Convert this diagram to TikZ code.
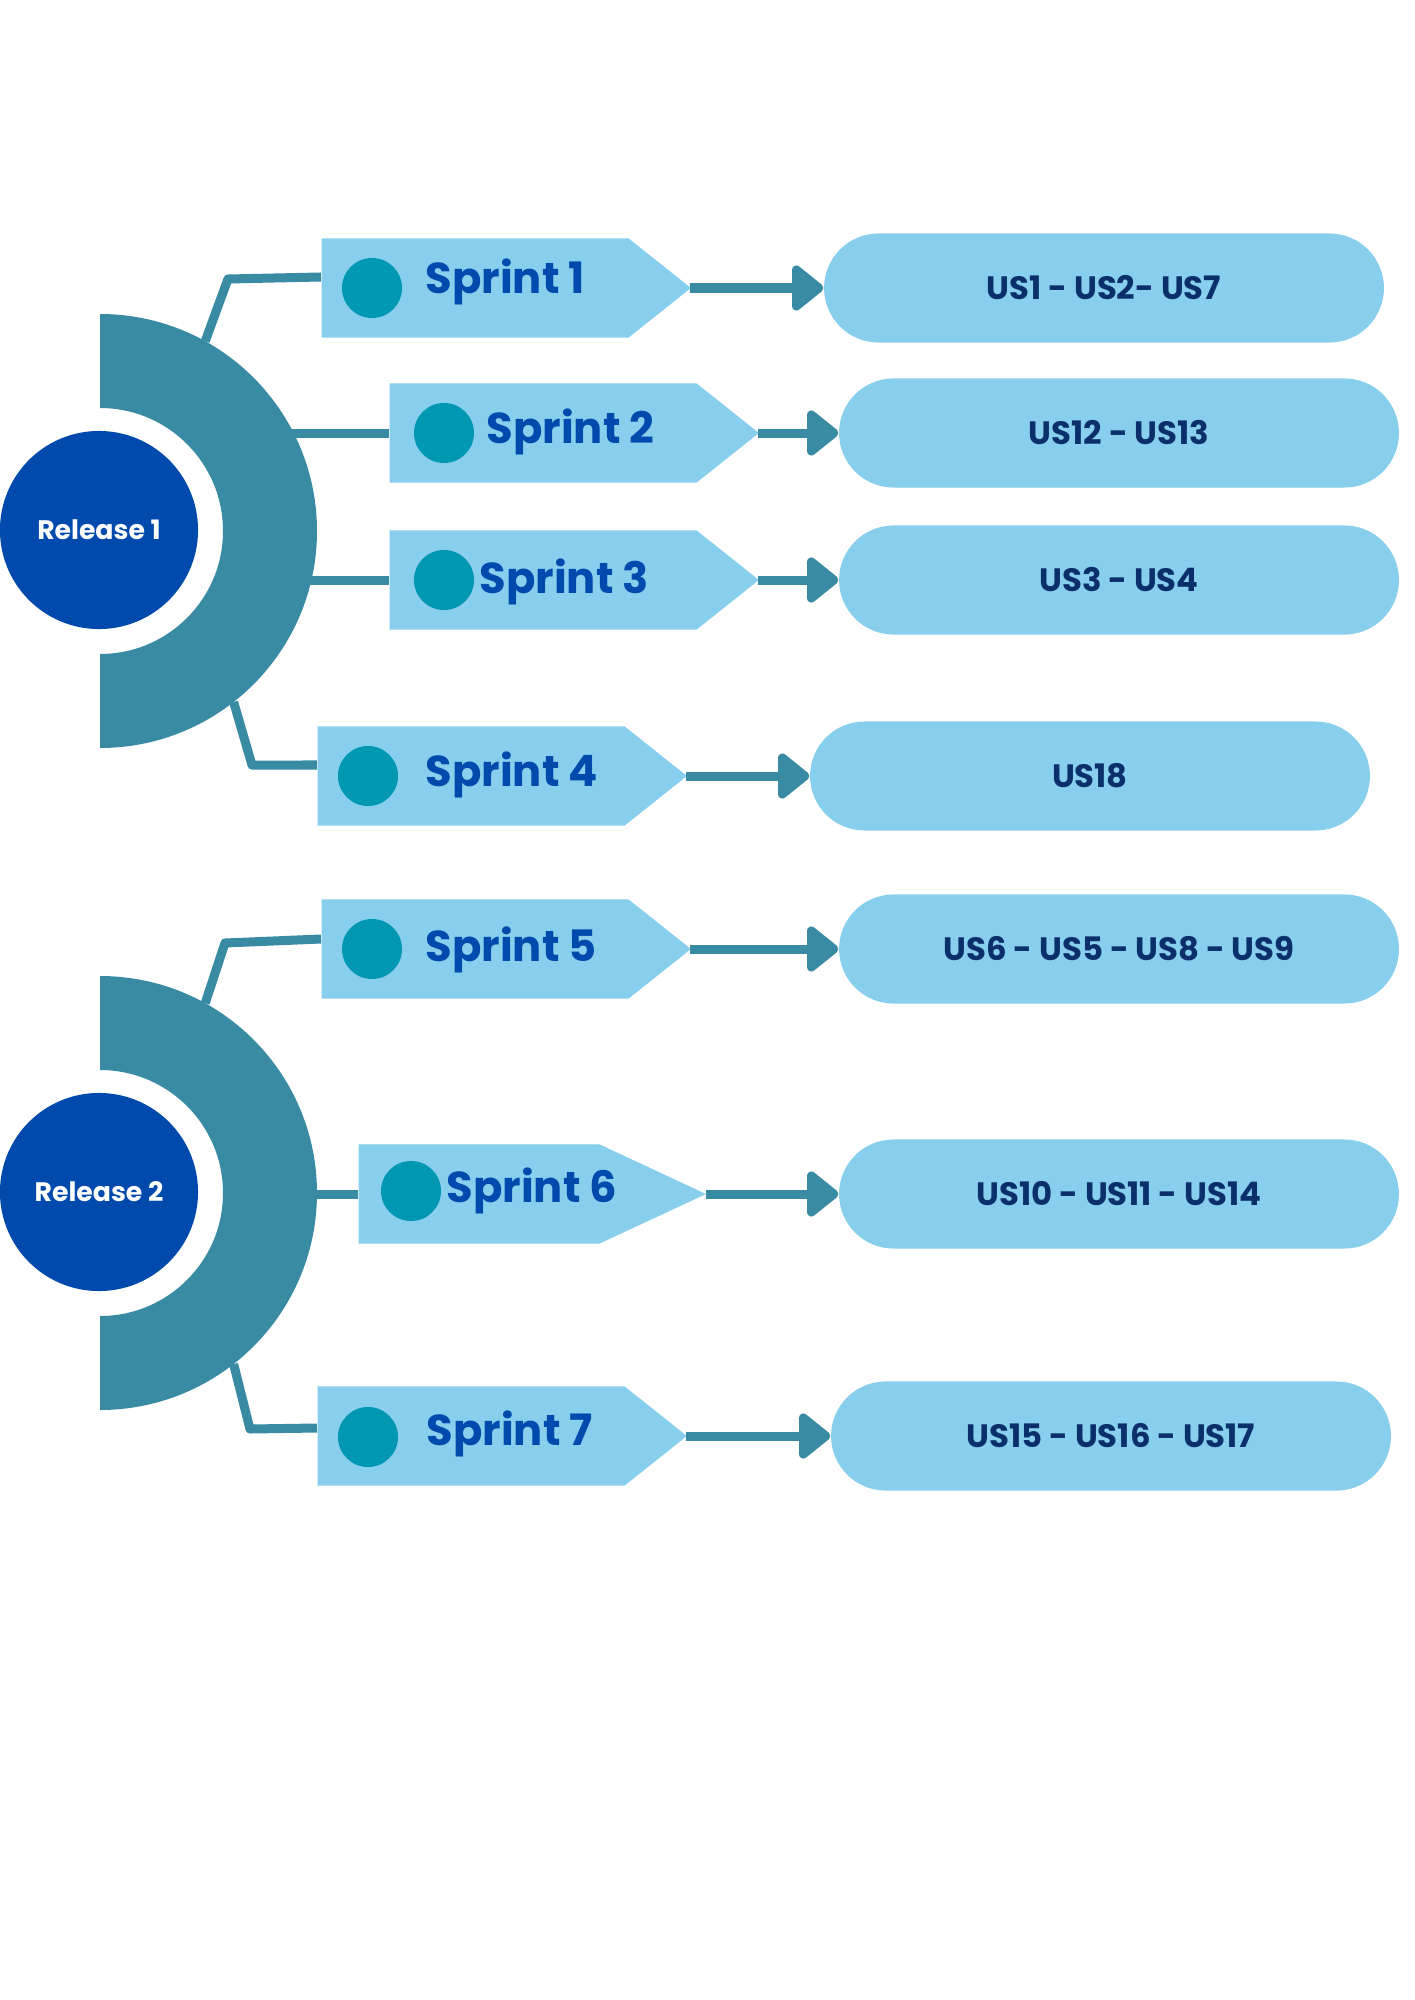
\documentclass[tikz,border=0pt]{standalone}
\usepackage{fontspec}
\setmainfont{Poppins}
\usepackage{xcolor}
\usepackage{tikz}
\usetikzlibrary{calc}
\usetikzlibrary{arrows.meta}
\usetikzlibrary{shapes.symbols}
\usetikzlibrary{shapes.misc}
\usetikzlibrary{positioning}
\definecolor{ringteal}{HTML}{388BA3}
\definecolor{tagblue}{HTML}{87CFEC}
\definecolor{dotteal}{HTML}{0097B2}
\definecolor{relblue}{HTML}{004AAD}
\definecolor{usnavy}{HTML}{0B2F6B}
\tikzset{>=latex}
\tikzstyle{release} = [circle, fill=relblue, text=white, inner sep=0, minimum size=1.98cm, font=\bfseries\fontsize{7.6}{9}\selectfont]
\tikzstyle{tag} = [signal, signal to=east, fill=tagblue, anchor=west, inner sep=0, minimum height=0.99cm, minimum width=3.69cm, signal pointer angle=77]
\tikzstyle{dot} = [circle, fill=dotteal, inner sep=0, minimum size=0.6cm]
\tikzstyle{sprintlab} = [anchor=base west, inner sep=0, text=relblue, font=\bfseries\fontsize{12.3}{14}\selectfont]
\tikzstyle{story} = [rounded rectangle, fill=tagblue, text=usnavy, minimum width=5.83cm, minimum height=1.09cm, font=\bfseries\fontsize{9.2}{11}\selectfont]
\tikzstyle{link} = [-, draw=ringteal, line width=0.09cm, line join=round]
\tikzstyle{flow} = [-{Triangle[round, length=0.34cm, width=0.52cm]}, draw=ringteal, line width=0.09cm, shorten <=-0.02cm]

\begin{document}
\begin{tikzpicture}[x=0.01cm, y=0.01cm]
\fill [white] (0,0) rectangle (1414,-2000);
\useasboundingbox (0,0) rectangle (1414,-2000);

% hubs of the two half rings
\coordinate (hub1) at (100,-531);
\coordinate (hub2) at (100,-1193);
\coordinate (k1) at (228,-279);
\coordinate (k4) at (252,-765);
\coordinate (k5) at (225,-943);
\coordinate (k7) at (250,-1429);

% sprint tags
\node [tag] (s1) at (321,-288) {};
\node [tag] (s2) at (389,-433) {};
\node [tag] (s3) at (389,-580) {};
\node [tag] (s4) at (317,-776) {};
\node [tag] (s5) at (321,-949) {};
\node [tag, minimum width=3.47cm, signal pointer angle=50] (s6) at (358,-1194) {};
\node [tag] (s7) at (317,-1436) {};

% links from the rings
\draw [link] ($(hub1)+(61:217)$) -- (k1) -- ([yshift=0.11cm]s1.west);
\draw [link] ($(s2.west -| hub1)+(170,0)$) -- (s2.west);
\draw [link] ($(s3.west -| hub1)+(190,0)$) -- (s3.west);
\draw [link] ($(hub1)+(-52:217)$) -- (k4) -- ([yshift=0.11cm]s4.west);
\draw [link] ($(hub2)+(61:217)$) -- (k5) -- ([yshift=0.1cm]s5.west);
\draw [link] ($(s6.west -| hub2)+(190,0)$) -- (s6.west);
\draw [link] ($(hub2)+(-52:217)$) -- (k7) -- ([yshift=0.08cm]s7.west);

\fill [ringteal] ($(hub1)+(90:217)$) arc [start angle=90, end angle=-90, radius=217] -- ($(hub1)+(-90:123)$) arc [start angle=-90, end angle=90, radius=123] -- cycle;
\fill [ringteal] ($(hub2)+(90:217)$) arc [start angle=90, end angle=-90, radius=217] -- ($(hub2)+(-90:123)$) arc [start angle=-90, end angle=90, radius=123] -- cycle;

\node [release] (r1) at (99,-530) {Release 1};
\node [release] (r2) at (99,-1192) {Release 2};

% dots and labels
\node [dot] (d1) at (372,-288) {};
\node [dot] (d2) at (444,-433) {};
\node [dot] (d3) at (444,-580) {};
\node [dot] (d4) at (368,-776) {};
\node [dot] (d5) at (372,-949) {};
\node [dot] (d6) at (411,-1191) {};
\node [dot] (d7) at (368,-1437) {};
\node [sprintlab] (l1) at (425,-294) {Sprint 1};
\node [sprintlab] (l2) at (486,-443) {Sprint 2};
\node [sprintlab] (l3) at (479,-593) {Sprint 3};
\node [sprintlab] (l4) at (425,-786) {Sprint 4};
\node [sprintlab] (l5) at (425,-961) {Sprint 5};
\node [sprintlab] (l6) at (446,-1202) {Sprint 6};
\node [sprintlab] (l7) at (426,-1445) {Sprint 7};

% user stories
\node [story] (p1) at (1104,-288) {US1 - US2- US7};
\node [story] (p2) at (1119,-433) {US12 - US13};
\node [story] (p3) at (1119,-580) {US3 - US4};
\node [story] (p4) at (1090,-776) {US18};
\node [story] (p5) at (1119,-949) {US6 - US5 - US8 - US9};
\node [story] (p6) at (1119,-1194) {US10 - US11 - US14};
\node [story] (p7) at (1111,-1436) {US15 - US16 - US17};

\draw [flow] (s1.east) -- (p1.west);
\draw [flow] (s2.east) -- (p2.west);
\draw [flow] (s3.east) -- (p3.west);
\draw [flow] (s4.east) -- (p4.west);
\draw [flow] (s5.east) -- (p5.west);
\draw [flow] (s6.east) -- (p6.west);
\draw [flow] (s7.east) -- (p7.west);
\end{tikzpicture}
\end{document}
